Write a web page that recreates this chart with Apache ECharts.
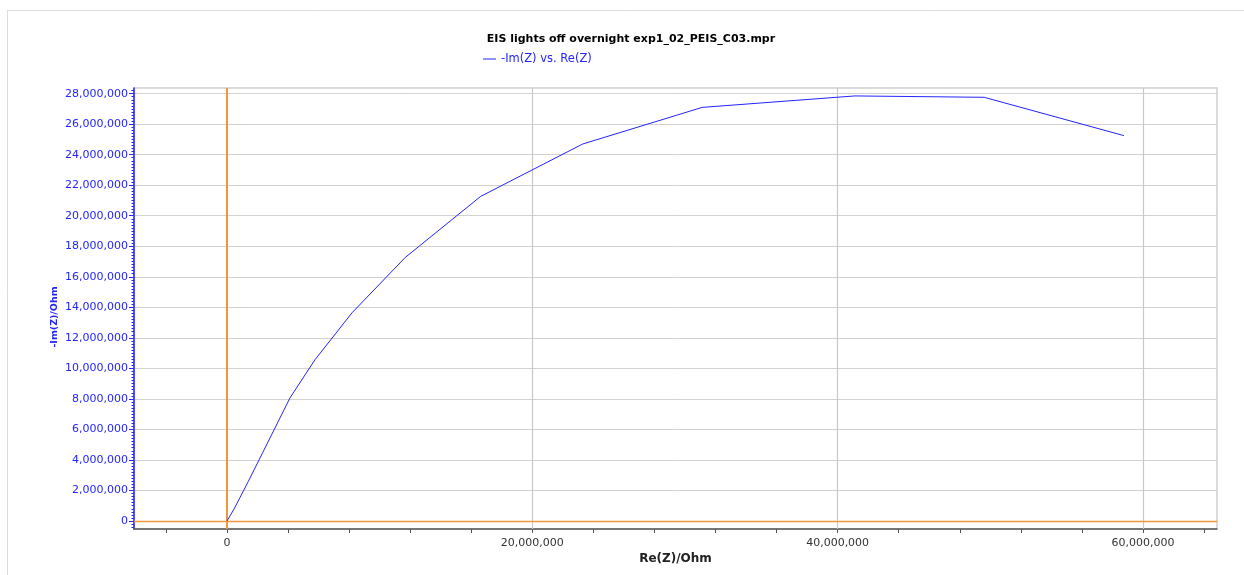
<!DOCTYPE html>
<html>
<head>
<meta charset="utf-8">
<script src="https://cdn.jsdelivr.net/npm/echarts@6/dist/echarts.min.js"></script>
<style>
html,body{margin:0;padding:0;background:#fff;}
#chart{width:1244px;height:575px;}
</style>
</head>
<body>
<div id="chart"></div>
<script>
// ---- data ----
const chartTitle = 'EIS lights off overnight exp1_02_PEIS_C03.mpr';
const seriesName = '-Im(Z) vs. Re(Z)';
const xName = 'Re(Z)/Ohm';
const yName = '-Im(Z)/Ohm';
const reZ =    [0, 0.12e6, 0.5e6, 1.4e6, 2.35e6, 4.13e6, 5.76e6, 8.19e6, 11.68e6, 16.62e6, 23.30e6, 31.13e6, 41.13e6, 49.60e6, 58.75e6];
const negImZ = [0, 0.20e6, 0.85e6, 2.6e6, 4.50e6, 8.07e6, 10.56e6, 13.64e6, 17.27e6, 21.27e6, 24.70e6, 27.10e6, 27.85e6, 27.76e6, 25.25e6];
const xLabelValues = [0, 20000000, 40000000, 60000000];
const xTickValues = [-4000000, 0, 4000000, 8000000, 12000000, 16000000, 20000000, 24000000, 28000000, 32000000, 36000000, 40000000, 44000000, 48000000, 52000000, 56000000, 60000000, 64000000];
const yLabelValues = [0, 2000000, 4000000, 6000000, 8000000, 10000000, 12000000, 14000000, 16000000, 18000000, 20000000, 22000000, 24000000, 26000000, 28000000];
const xRange = [-6090000, 64850000];
const yRange = [-525000, 28370000];

const yMinorTicks = [];
for (let v = -400000; v <= 28200000; v += 200000) yMinorTicks.push(v);

const fmt = v => Math.round(v).toLocaleString('en-US');
const FONT = 'DejaVu Sans';
const BLUE = '#2424ff';
const ORANGE = '#f0963c';

const chart = echarts.init(document.getElementById('chart'), null, {renderer: 'canvas'});
chart.setOption({
  animation: false,
  backgroundColor: '#fff',
  title: {
    text: chartTitle,
    left: 626, top: 29, textAlign: 'center',
    textStyle: {fontFamily: FONT, fontSize: 11, fontWeight: 'bold', color: '#000'}
  },
  legend: {
    data: [{name: seriesName, icon: 'rect'}],
    left: 478, top: 48,
    itemWidth: 13, itemHeight: 1,
    textStyle: {fontFamily: FONT, fontSize: 11.5, color: BLUE}
  },
  graphic: [
    {type: 'line', shape: {x1: 7.5, y1: 10, x2: 7.5, y2: 575}, style: {stroke: '#dcdcdc', lineWidth: 1}},
    {type: 'line', shape: {x1: 7, y1: 10.5, x2: 1244, y2: 10.5}, style: {stroke: '#dcdcdc', lineWidth: 1}}
  ],
  grid: [{
    left: 134, top: 88, width: 1083, height: 441,
    show: true, borderColor: '#cfcfcf', borderWidth: 1.5, backgroundColor: 'transparent'
  }, {
    left: 134, top: 88, width: 1083, height: 441, show: false
  }],
  xAxis: [{
    type: 'value', min: xRange[0], max: xRange[1], gridIndex: 0,
    name: xName, nameLocation: 'middle', nameGap: 24, nameMoveOverlap: false,
    nameTextStyle: {fontFamily: FONT, fontSize: 12, fontWeight: 'bold', color: '#222'},
    axisLine: {show: true, onZero: false, lineStyle: {color: '#555', width: 1.5}},
    axisTick: {show: true, length: 4, customValues: xTickValues, lineStyle: {color: '#555'}},
    axisLabel: {customValues: xLabelValues, formatter: fmt, fontFamily: FONT, fontSize: 11, color: '#333', margin: 9},
    splitLine: {show: false}
  }, {
    type: 'value', min: xRange[0], max: xRange[1], gridIndex: 1, show: false
  }],
  yAxis: [{
    type: 'value', min: yRange[0], max: yRange[1], position: 'left', gridIndex: 0,
    name: yName, nameLocation: 'middle', nameGap: 74, nameRotate: 90, nameMoveOverlap: false,
    nameTextStyle: {fontFamily: FONT, fontSize: 9.5, fontWeight: 'bold', color: BLUE, padding: [0, 17, 0, 0]},
    axisLine: {show: true, onZero: false, lineStyle: {color: BLUE, width: 1.5}},
    axisTick: {show: true, length: 5, customValues: yLabelValues, lineStyle: {color: BLUE}},
    axisLabel: {customValues: yLabelValues, formatter: fmt, fontFamily: FONT, fontSize: 11, color: BLUE, margin: 6},
    splitLine: {show: true, lineStyle: {color: '#d2d2d2', width: 1}}
  }, {
    type: 'value', min: yRange[0], max: yRange[1], position: 'left', gridIndex: 1,
    axisLine: {show: false, onZero: false},
    axisTick: {show: true, length: 2.5, customValues: yMinorTicks, lineStyle: {color: BLUE}},
    axisLabel: {show: false},
    splitLine: {show: false}
  }],
  series: [{
    type: 'line', name: '__grid', data: [], silent: true, z: 1,
    markLine: {
      silent: true, symbol: 'none', animation: false, label: {show: false},
      lineStyle: {color: '#c8c8c8', width: 1.2, type: 'solid'},
      data: [{xAxis: 20000000}, {xAxis: 40000000}, {xAxis: 60000000}]
    }
  }, {
    type: 'line', name: '__zero', data: [], silent: true, z: 2,
    markLine: {
      silent: true, symbol: 'none', animation: false, label: {show: false},
      data: [
        {xAxis: 0, lineStyle: {color: ORANGE, width: 2, type: 'solid'}},
        {yAxis: 0, lineStyle: {color: ORANGE, width: 1.3, type: 'solid'}}
      ]
    }
  }, {
    type: 'line', name: seriesName, z: 5,
    data: reZ.map((x, i) => [x, negImZ[i]]),
    showSymbol: false, symbol: 'none',
    lineStyle: {color: BLUE, width: 1},
    itemStyle: {color: BLUE}
  }]
});
</script>
</body>
</html>
